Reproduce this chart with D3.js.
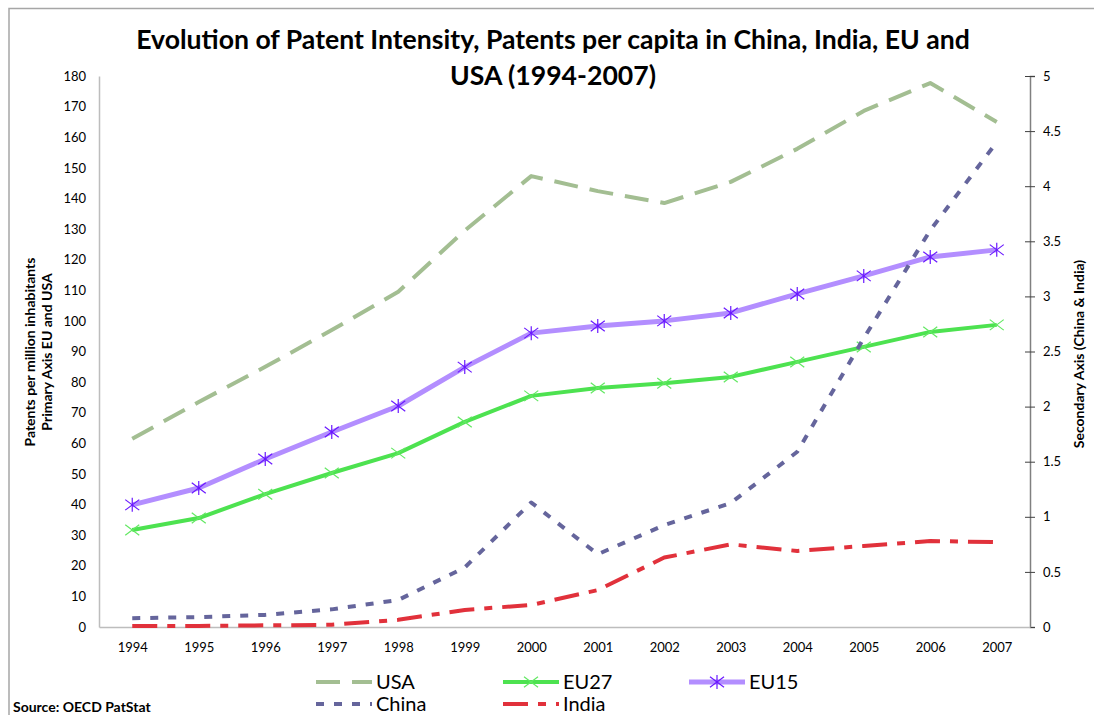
<!DOCTYPE html>
<html>
<head>
<meta charset="utf-8">
<script src="https://cdn.jsdelivr.net/npm/d3@7.9.0/dist/d3.min.js"></script>
<style>
  body { margin: 0; background: #fff; }
  svg { display: block; font-family: Lato, "Open Sans", sans-serif; }
</style>
</head>
<body>
<svg id="chart" width="1094" height="715"></svg>
<script>
// data
const years = [1994, 1995, 1996, 1997, 1998, 1999, 2000, 2001, 2002, 2003, 2004, 2005, 2006, 2007];
const usa   = [61.5, 73.5, 85, 97, 109.5, 129.5, 147.3, 142.4, 138.5, 145.4, 156.2, 168.6, 177.7, 165];
const eu27  = [31.7, 35.6, 43.4, 50.3, 56.8, 67, 75.5, 78.1, 79.6, 81.7, 86.6, 91.5, 96.4, 98.7];
const eu15  = [39.9, 45.4, 54.9, 63.7, 72.2, 84.9, 96, 98.3, 100, 102.6, 108.8, 114.7, 120.9, 123.2];
const china = [0.08, 0.09, 0.11, 0.16, 0.245, 0.54, 1.13, 0.66, 0.925, 1.125, 1.59, 2.62, 3.6, 4.4];
const india = [0.01, 0.01, 0.015, 0.02, 0.065, 0.155, 0.2, 0.335, 0.63, 0.75, 0.69, 0.735, 0.78, 0.77];

const leftTicks = d3.range(0, 181, 10);
const rightTicks = d3.range(0, 5.01, 0.5);

const svg = d3.select('#chart');

// outer chart border
svg.append('path')
  .attr('d', 'M9,720 L9,8.5 L1100,8.5')
  .attr('fill', 'none')
  .attr('stroke', '#a6a6a6')
  .attr('stroke-width', 1.5);

// scales
const x = d3.scalePoint().domain(years).range([99, 1030]).padding(0.5);
const yL = d3.scaleLinear().domain([0, 180]).range([627, 76]);
const yR = d3.scaleLinear().domain([0, 5]).range([627, 76]);

// title
const title = svg.append('text')
  .attr('text-anchor', 'middle')
  .attr('font-weight', 'bold')
  .attr('font-size', 26.6)
  .attr('fill', '#000');
title.append('tspan').attr('x', 553).attr('y', 49)
  .text('Evolution of Patent Intensity, Patents per capita in China, India, EU and');
title.append('tspan').attr('x', 553).attr('y', 85)
  .text('USA (1994-2007)');

// left axis
const gL = svg.append('g')
  .attr('transform', 'translate(99,0)')
  .call(d3.axisLeft(yL).tickValues(leftTicks).tickSize(0).tickPadding(13));
gL.select('.domain').attr('stroke', '#bdbdbd').attr('stroke-width', 1.5);
gL.selectAll('text').attr('font-size', 13).attr('fill', '#000').attr('font-family', 'Lato');

// right axis with crossing ticks
const gR = svg.append('g')
  .attr('transform', 'translate(1030,0)')
  .call(d3.axisRight(yR).tickValues(rightTicks).tickSize(5).tickPadding(8).tickFormat(d3.format('~g')));
gR.select('.domain').attr('stroke', '#808080').attr('stroke-width', 1.5);
gR.selectAll('.tick line').attr('x1', -5).attr('stroke', '#404040');
gR.selectAll('text').attr('font-size', 13).attr('fill', '#000').attr('font-family', 'Lato');

// bottom axis
const gB = svg.append('g')
  .attr('transform', 'translate(0,627)')
  .call(d3.axisBottom(x).tickSize(0).tickPadding(16));
gB.select('.domain').attr('stroke', '#bdbdbd').attr('stroke-width', 1.5);
gB.selectAll('text').attr('font-size', 13).attr('fill', '#000').attr('font-family', 'Lato');

// axis titles
const lt = svg.append('text')
  .attr('transform', 'translate(30,352) rotate(-90)')
  .attr('text-anchor', 'middle')
  .attr('font-weight', 'bold')
  .attr('font-size', 14);
lt.append('tspan').attr('x', 0).attr('y', 5).text('Patents per million inhabitants');
lt.append('tspan').attr('x', 0).attr('y', 22).text('Primary Axis EU and USA');

svg.append('text')
  .attr('transform', 'translate(1084,354) rotate(-90)')
  .attr('text-anchor', 'middle')
  .attr('font-weight', 'bold')
  .attr('font-size', 14)
  .text('Secondary Axis (China & India)');

// series definitions
const series = [
  { name: 'USA', values: usa, y: yL, color: '#a3be92', width: 4, dash: '24,12' },
  { name: 'EU27', values: eu27, y: yL, color: '#4de250', width: 4, dash: null, marker: 'x', markerColor: '#62e862' },
  { name: 'EU15', values: eu15, y: yL, color: '#b38eff', width: 5, dash: null, marker: 'star', markerColor: '#6a18ff' },
  { name: 'China', values: china, y: yR, color: '#65659c', width: 4, dash: '8,10' },
  { name: 'India', values: india, y: yR, color: '#e1313b', width: 4, dash: '25,10,8,10' }
];

function drawMarker(g, type, cx, cy, color) {
  const s = 7;
  const m = g.append('g').attr('stroke', color).attr('stroke-width', 1.2).attr('fill', 'none');
  m.append('line').attr('x1', cx - s).attr('y1', cy - s * 0.75).attr('x2', cx + s).attr('y2', cy + s * 0.75);
  m.append('line').attr('x1', cx - s).attr('y1', cy + s * 0.75).attr('x2', cx + s).attr('y2', cy - s * 0.75);
  if (type === 'star') {
    m.append('line').attr('x1', cx).attr('y1', cy - s).attr('x2', cx).attr('y2', cy + s);
  }
}

const plot = svg.append('g');
series.forEach(s => {
  const line = d3.line()
    .x((d, i) => x(years[i]))
    .y(d => s.y(d));
  plot.append('path')
    .datum(s.values)
    .attr('d', line)
    .attr('fill', 'none')
    .attr('stroke', s.color)
    .attr('stroke-width', s.width)
    .attr('stroke-dasharray', s.dash)
    .attr('stroke-linejoin', 'round');
  if (s.marker) {
    s.values.forEach((v, i) => drawMarker(plot, s.marker, x(years[i]), s.y(v), s.markerColor));
  }
});

// legend
const legendPos = {
  USA: [316, 682], EU27: [503, 682], EU15: [689, 682],
  China: [316, 704], India: [503, 704]
};
const legend = svg.append('g');
series.forEach(s => {
  const [lx, ly] = legendPos[s.name];
  legend.append('line')
    .attr('x1', lx).attr('x2', lx + 56)
    .attr('y1', ly).attr('y2', ly)
    .attr('stroke', s.color)
    .attr('stroke-width', s.width)
    .attr('stroke-dasharray', s.dash);
  if (s.marker) drawMarker(legend, s.marker, lx + 28, ly, s.markerColor);
  legend.append('text')
    .attr('x', lx + 60).attr('y', ly + 7)
    .attr('font-size', 20)
    .attr('fill', '#000')
    .text(s.name);
});

// source note
svg.append('text')
  .attr('x', 13).attr('y', 712)
  .attr('font-weight', 'bold')
  .attr('font-size', 14)
  .text('Source: OECD PatStat');
</script>
</body>
</html>
